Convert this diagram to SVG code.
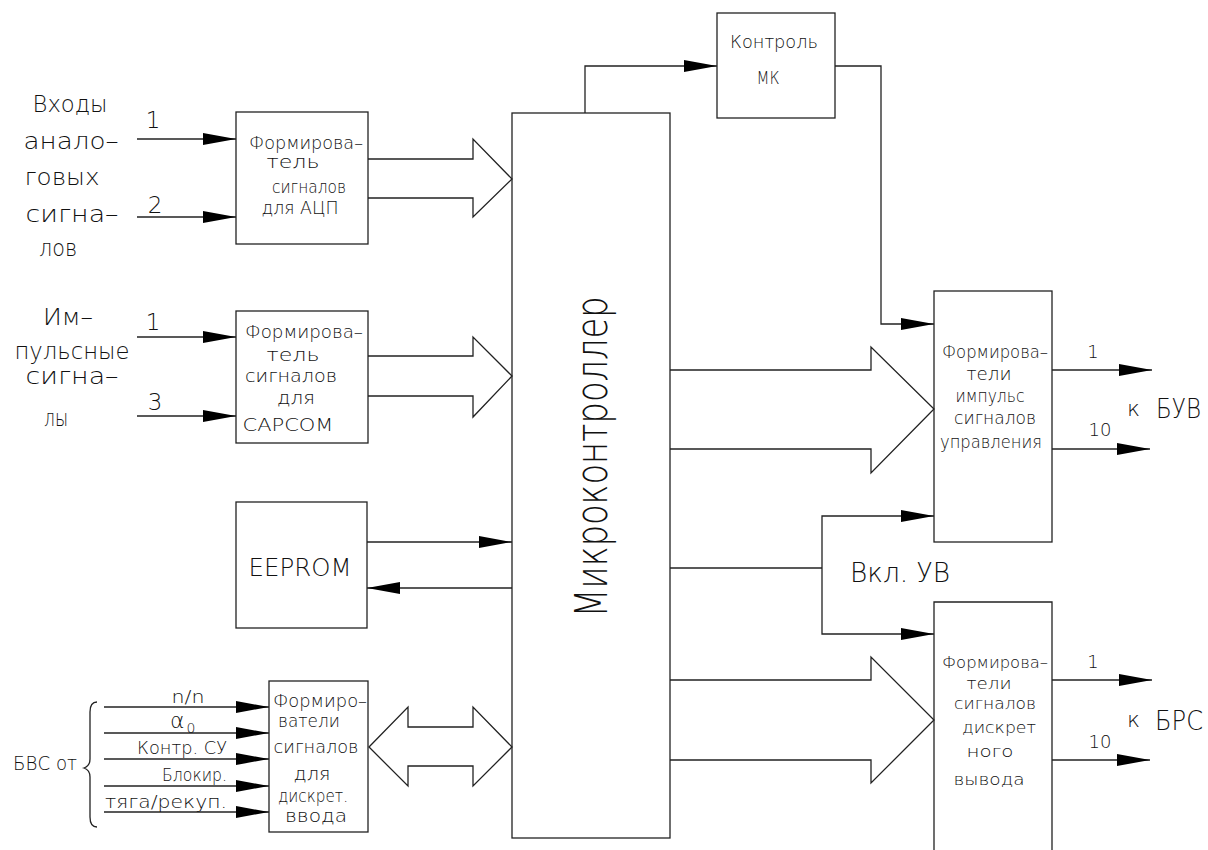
<svg xmlns="http://www.w3.org/2000/svg" width="1208" height="850" viewBox="0 0 1208 850">
<style>
  .ln{fill:none;stroke:#222;stroke-width:1.3}
  .box{fill:none;stroke:#222;stroke-width:1.3}
  .arr{fill:none;stroke:#222;stroke-width:1.3;marker-end:url(#ah)}
  text{font-family:"DejaVu Sans","Liberation Sans",sans-serif;font-weight:200;fill:#111}
  .t17{font-size:18px}
  .t15{font-size:16px}
  .t16{font-size:17px}
  .t21{font-size:23px}
  .c{text-anchor:middle}
  .e{text-anchor:end}
</style>
<defs>
  <marker id="ah" markerUnits="userSpaceOnUse" markerWidth="34" markerHeight="12" refX="33" refY="6" orient="auto">
    <path d="M0,0 L33,6 L0,12 z" fill="#000"/>
  </marker>
</defs>
<rect width="1208" height="850" fill="#fff"/>

<g id="connectors">
  <line class="arr" x1="137" y1="139" x2="236" y2="139"/>
  <line class="arr" x1="137" y1="217" x2="236" y2="217"/>
  <line class="arr" x1="137" y1="337" x2="236" y2="337"/>
  <line class="arr" x1="137" y1="416" x2="236" y2="416"/>
  <line class="arr" x1="104" y1="707" x2="269" y2="707"/>
  <line class="arr" x1="104" y1="733" x2="269" y2="733"/>
  <line class="arr" x1="104" y1="759" x2="269" y2="759"/>
  <line class="arr" x1="104" y1="786" x2="269" y2="786"/>
  <line class="arr" x1="104" y1="812" x2="269" y2="812"/>
  <path class="ln" d="M97,702 Q90,702 90,712 L90,759 Q90,766 84,768 Q90,770 90,777 L90,817 Q90,827 97,827"/>
  <polyline class="ln" points="368,159 473,159 473,139 512,179 473,217 473,198 368,198"/>
  <polyline class="ln" points="368,356 473,356 473,337 512,376 473,417 473,396 368,396"/>
  <polygon class="ln" points="369,747 408,707 408,727 473,727 473,707 512,747 473,786 473,766 408,766 408,786"/>
  <line class="arr" x1="367" y1="542" x2="512" y2="542"/>
  <line class="arr" x1="512" y1="588" x2="367" y2="588"/>
  <polyline class="arr" points="585,113 585,66 717,66"/>
  <polyline class="arr" points="835,66 881,66 881,324 934,324"/>
  <polyline class="ln" points="670,370 871,370 871,347 934,409 871,473 871,449 670,449"/>
  <polyline class="ln" points="670,680 871,680 871,657 934,720 871,783 871,760 670,760"/>
  <line class="ln" x1="670" y1="568" x2="822" y2="568"/>
  <polyline class="arr" points="822,568 822,516 934,516"/>
  <polyline class="arr" points="822,568 822,634 934,634"/>
  <line class="arr" x1="1052" y1="370" x2="1152" y2="370"/>
  <line class="arr" x1="1052" y1="449" x2="1150" y2="449"/>
  <line class="arr" x1="1052" y1="680" x2="1152" y2="680"/>
  <line class="arr" x1="1052" y1="760" x2="1150" y2="760"/>
</g>

<g id="label-analog">
  <text class="t21 c" x="70" y="112" textLength="75" lengthAdjust="spacingAndGlyphs">Входы</text>
  <text class="t21 c" x="71" y="149" textLength="95" lengthAdjust="spacingAndGlyphs">анало–</text>
  <text class="t21 c" x="62" y="185" textLength="75" lengthAdjust="spacingAndGlyphs">говых</text>
  <text class="t21 c" x="72" y="222" textLength="93" lengthAdjust="spacingAndGlyphs">сигна–</text>
  <text class="t21 c" x="58" y="256" textLength="38" lengthAdjust="spacingAndGlyphs">лов</text>
  <text class="t21 c" x="153" y="128">1</text>
  <text class="t21 c" x="155" y="213">2</text>
</g>

<g id="label-impulse">
  <text class="t21 c" x="68" y="325" textLength="50" lengthAdjust="spacingAndGlyphs">Им–</text>
  <text class="t21 c" x="72" y="359" textLength="115" lengthAdjust="spacingAndGlyphs">пульсные</text>
  <text class="t21 c" x="72" y="384" textLength="93" lengthAdjust="spacingAndGlyphs">сигна–</text>
  <text class="t21 c" x="56" y="426" textLength="24" lengthAdjust="spacingAndGlyphs">лы</text>
  <text class="t21 c" x="153" y="330">1</text>
  <text class="t21 c" x="155" y="410">3</text>
</g>

<g id="node-adc">
  <rect class="box" x="236" y="112" width="132" height="132"/>
  <text class="t17 c" x="306" y="149" textLength="114" lengthAdjust="spacingAndGlyphs">Формирова–</text>
  <text class="t17 c" x="293" y="168" textLength="53" lengthAdjust="spacingAndGlyphs">тель</text>
  <text class="t17 c" x="309" y="193" textLength="74" lengthAdjust="spacingAndGlyphs">сигналов</text>
  <text class="t17 c" x="300" y="214" textLength="77" lengthAdjust="spacingAndGlyphs">для  АЦП</text>
</g>

<g id="node-capcom">
  <rect class="box" x="236" y="311" width="132" height="132"/>
  <text class="t17 c" x="304" y="338" textLength="118" lengthAdjust="spacingAndGlyphs">Формирова–</text>
  <text class="t17 c" x="293" y="361" textLength="53" lengthAdjust="spacingAndGlyphs">тель</text>
  <text class="t17 c" x="291" y="382" textLength="92" lengthAdjust="spacingAndGlyphs">сигналов</text>
  <text class="t17 c" x="296" y="404" textLength="38" lengthAdjust="spacingAndGlyphs">для</text>
  <text class="t17 c" x="288" y="431" textLength="91" lengthAdjust="spacingAndGlyphs">CAPCOM</text>
</g>

<g id="node-eeprom">
  <rect class="box" x="236" y="502" width="131" height="126"/>
  <text class="c" x="300" y="576" font-size="25" textLength="103" lengthAdjust="spacingAndGlyphs">EEPROM</text>
</g>

<g id="label-bvs">
  <text x="13" y="770" font-size="19" textLength="64" lengthAdjust="spacingAndGlyphs">БВС от</text>
  <text class="t16 c" x="188" y="703" textLength="33" lengthAdjust="spacingAndGlyphs">n/n</text>
  <text x="170" y="728" font-size="22">α<tspan font-size="14" dx="2" dy="5">0</tspan></text>
  <text class="t16 e" x="227" y="754" textLength="90" lengthAdjust="spacingAndGlyphs">Контр.  СУ</text>
  <text class="t16 e" x="227" y="781" textLength="65" lengthAdjust="spacingAndGlyphs">Блокир.</text>
  <text class="t16 e" x="227" y="808" textLength="122" lengthAdjust="spacingAndGlyphs">тяга/рекуп.</text>
</g>

<g id="node-discrete-in">
  <rect class="box" x="269" y="681" width="99" height="151"/>
  <text class="t17 c" x="320" y="707" textLength="94" lengthAdjust="spacingAndGlyphs">Формиро–</text>
  <text class="t17 c" x="309" y="727" textLength="62" lengthAdjust="spacingAndGlyphs">ватели</text>
  <text class="t17 c" x="316" y="753" textLength="85" lengthAdjust="spacingAndGlyphs">сигналов</text>
  <text class="t17 c" x="312" y="780" textLength="37" lengthAdjust="spacingAndGlyphs">для</text>
  <text class="t17 c" x="313" y="802" textLength="70" lengthAdjust="spacingAndGlyphs">дискрет.</text>
  <text class="t17 c" x="316" y="822" textLength="62" lengthAdjust="spacingAndGlyphs">ввода</text>
</g>

<g id="node-mcu">
  <rect class="box" x="512" y="113" width="158" height="725"/>
  <text class="c" transform="translate(607,457) rotate(-90)" font-size="44" textLength="321" lengthAdjust="spacingAndGlyphs">Микроконтроллер</text>
</g>

<g id="node-control">
  <rect class="box" x="717" y="13" width="118" height="105"/>
  <text class="c" x="774" y="48" font-size="18" textLength="88" lengthAdjust="spacingAndGlyphs">Контроль</text>
  <text class="c" x="768" y="84" font-size="18" textLength="23" lengthAdjust="spacingAndGlyphs">МК</text>
</g>

<g id="node-pulse-out">
  <rect class="box" x="934" y="291" width="118" height="251"/>
  <text class="t17 c" x="995" y="358" textLength="106" lengthAdjust="spacingAndGlyphs">Формирова–</text>
  <text class="t17 c" x="989" y="380" textLength="45" lengthAdjust="spacingAndGlyphs">тели</text>
  <text class="t17 c" x="990" y="402" textLength="69" lengthAdjust="spacingAndGlyphs">импульс</text>
  <text class="t17 c" x="995" y="424" textLength="82" lengthAdjust="spacingAndGlyphs">сигналов</text>
  <text class="t17 c" x="991" y="448" textLength="102" lengthAdjust="spacingAndGlyphs">управления</text>
</g>

<g id="label-buv">
  <text class="c" x="1093" y="358" font-size="18">1</text>
  <text class="c" x="1100" y="436" font-size="18">10</text>
  <text x="1127" y="416" font-size="22">к</text>
  <text x="1156" y="418" font-size="27" textLength="45" lengthAdjust="spacingAndGlyphs">БУВ</text>
</g>

<g id="label-vkl">
  <text x="850" y="582" font-size="27" textLength="100" lengthAdjust="spacingAndGlyphs">Вкл.  УВ</text>
</g>

<g id="node-discrete-out">
  <path class="box" d="M934,860 V602 H1052 V860"/>
  <text class="t15 c" x="995" y="668" textLength="106" lengthAdjust="spacingAndGlyphs">Формирова–</text>
  <text class="t15 c" x="989" y="689" textLength="45" lengthAdjust="spacingAndGlyphs">тели</text>
  <text class="t15 c" x="995" y="709" textLength="82" lengthAdjust="spacingAndGlyphs">сигналов</text>
  <text class="t15 c" x="999" y="733" textLength="74" lengthAdjust="spacingAndGlyphs">дискрет</text>
  <text class="t15 c" x="990" y="757" textLength="47" lengthAdjust="spacingAndGlyphs">ного</text>
  <text class="t15 c" x="989" y="785" textLength="71" lengthAdjust="spacingAndGlyphs">вывода</text>
</g>

<g id="label-brs">
  <text class="c" x="1093" y="668" font-size="18">1</text>
  <text class="c" x="1100" y="748" font-size="18">10</text>
  <text x="1127" y="727" font-size="22">к</text>
  <text x="1155" y="730" font-size="27" textLength="48" lengthAdjust="spacingAndGlyphs">БРС</text>
</g>
</svg>
